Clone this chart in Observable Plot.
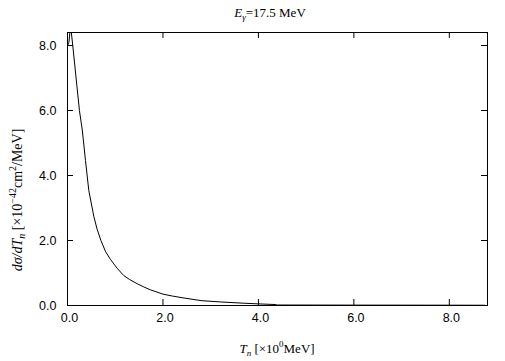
<!DOCTYPE html>
<html>
<head>
<meta charset="utf-8">
<script src="https://cdn.jsdelivr.net/npm/d3@7"></script>
<script src="https://cdn.jsdelivr.net/npm/@observablehq/plot@0.6"></script>
<style>
  html, body { margin: 0; padding: 0; background: white; }
</style>
</head>
<body>
<div id="chart"></div>
<script>
// Data
const tn = [0, 0.0, 0.03, 0.05, 0.08, 0.11, 0.18, 0.25, 0.31, 0.377, 0.446, 0.55, 0.62, 0.70, 0.80, 0.90, 0.97, 1.05, 1.18, 1.30, 1.46, 1.60, 1.74, 2.0, 2.2, 2.4, 2.8, 3.2, 3.7, 4.0, 4.35, 4.4, 6.0, 8.0, 8.75, 8.75];
const dsig = [5.4, 8.0, 8.1, 8.4, 8.4, 8.0, 7.0, 6.0, 5.4, 4.46, 3.54, 2.75, 2.35, 2.0, 1.65, 1.42, 1.28, 1.13, 0.92, 0.80, 0.67, 0.57, 0.48, 0.35, 0.29, 0.24, 0.15, 0.11, 0.07, 0.05, 0.03, 0.015, 0.012, 0.01, 0.008, 0];
const xTicks = [0, 2, 4, 6, 8];
const yTicks = [0, 2, 4, 6, 8];
const xDomain = [0, 8.8];
const yDomain = [0, 8.4];

const data = tn.map((x, i) => ({x, y: dsig[i]}));

const W = 505, H = 361;
const mL = 67, mR = 18, mT = 32, mB = 56;
const innerW = W - mL - mR, innerH = H - mT - mB;
const tickLen = 6;
const fmt = d3.format(".1f");

const plot = Plot.plot({
  width: W, height: H,
  marginLeft: mL, marginRight: mR, marginTop: mT, marginBottom: mB,
  style: {fontFamily: "'Liberation Sans', Arial, sans-serif", fontSize: "12.5px", color: "black", background: "white"},
  x: {domain: xDomain, ticks: xTicks},
  y: {domain: yDomain, ticks: yTicks},
  marks: [
    Plot.line(data, {x: "x", y: "y", stroke: "black", strokeWidth: 1}),
    Plot.tickX(xTicks, {x: d => d, insetTop: innerH - tickLen, stroke: "black"}),
    Plot.tickX(xTicks, {x: d => d, insetBottom: innerH - tickLen, stroke: "black"}),
    Plot.tickY(yTicks, {y: d => d, insetRight: innerW - tickLen, stroke: "black"}),
    Plot.tickY(yTicks, {y: d => d, insetLeft: innerW - tickLen, stroke: "black"}),
    Plot.frame({stroke: "black"}),
    Plot.axisX({ticks: xTicks, tickSize: 0, tickPadding: 8, dx: 2, tickFormat: fmt, label: null, fontSize: 12.5}),
    Plot.axisY({ticks: yTicks, tickSize: 0, tickPadding: 11, tickFormat: fmt, label: null, fontSize: 12.5})
  ]
});

document.getElementById("chart").appendChild(plot);

const svg = d3.select(plot);
const serif = "'Liberation Serif', 'Times New Roman', serif";

// Title
const t = svg.append("text")
  .attr("x", 270).attr("y", 17)
  .attr("text-anchor", "middle")
  .attr("font-family", serif).attr("font-size", 13).attr("fill", "black");
t.append("tspan").attr("font-style", "italic").text("E");
t.append("tspan").attr("font-style", "italic").attr("font-size", 9).attr("dy", 3).text("γ");
t.append("tspan").attr("dy", -3).text("=17.5 MeV");

// X label
const xl = svg.append("text")
  .attr("x", 277).attr("y", 353)
  .attr("text-anchor", "middle")
  .attr("font-family", serif).attr("font-size", 13).attr("fill", "black");
xl.append("tspan").attr("font-style", "italic").text("T");
xl.append("tspan").attr("font-style", "italic").attr("font-size", 9).attr("dy", 3).text("n");
xl.append("tspan").attr("dy", -3).text(" [×10");
xl.append("tspan").attr("font-size", 9).attr("dy", -6).text("0");
xl.append("tspan").attr("dy", 6).text("MeV]");

// Y label
const yl = svg.append("text")
  .attr("transform", "translate(22,200) rotate(-90)")
  .attr("text-anchor", "middle")
  .attr("font-family", serif).attr("font-size", 14).attr("fill", "black");
yl.append("tspan").attr("font-style", "italic").text("dσ/dT");
yl.append("tspan").attr("font-style", "italic").attr("font-size", 10).attr("dy", 3).text("n");
yl.append("tspan").attr("dy", -3).text(" [×10");
yl.append("tspan").attr("font-size", 10).attr("dy", -6).text("−42");
yl.append("tspan").attr("dy", 6).text("cm");
yl.append("tspan").attr("font-size", 10).attr("dy", -6).text("2");
yl.append("tspan").attr("dy", 6).text("/MeV]");
</script>
</body>
</html>
